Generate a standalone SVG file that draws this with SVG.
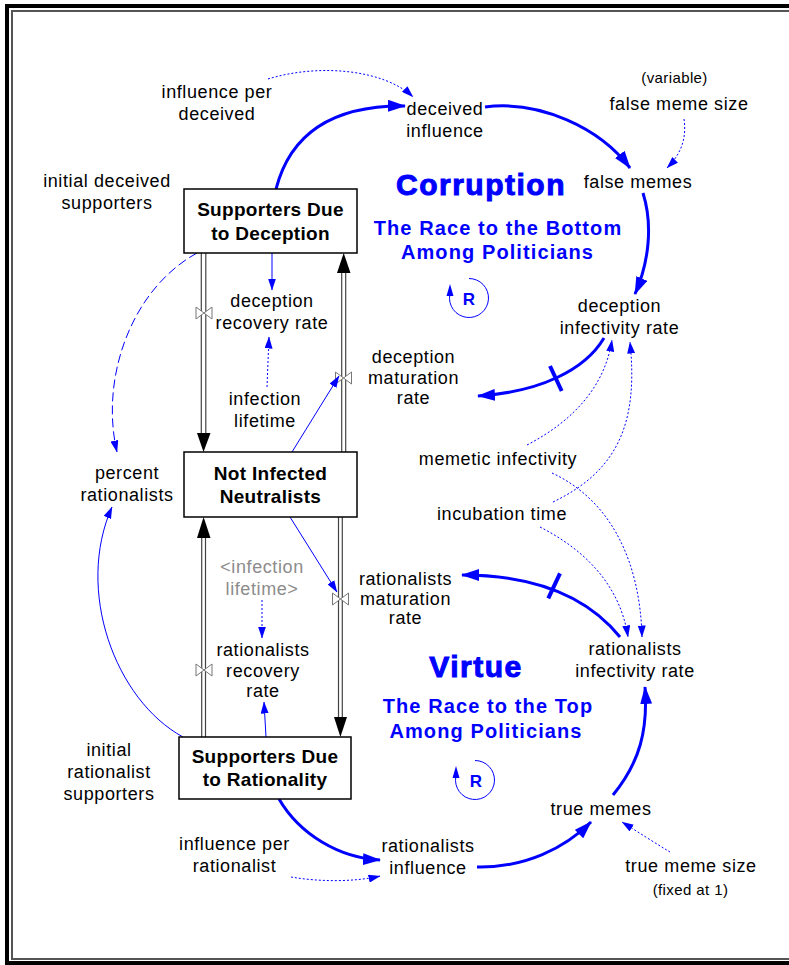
<svg xmlns="http://www.w3.org/2000/svg" width="789" height="965" viewBox="0 0 789 965">
<style>
text{font-family:'Liberation Sans',Arial,sans-serif}
.lbl{font-size:18px;letter-spacing:0.6px;text-anchor:middle;fill:#000}
.sm{font-size:15px;letter-spacing:0.4px;text-anchor:middle;fill:#000}
.gray{fill:#8c8c8c}
.stk{font-size:19px;font-weight:bold;letter-spacing:0.3px;text-anchor:middle;fill:#000}
.box{fill:#fff;stroke:#000;stroke-width:1.5}
.title{font-size:30px;font-weight:bold;letter-spacing:1.5px;text-anchor:middle;fill:#00f;stroke:#00f;stroke-width:1}
.sub{font-size:20px;font-weight:bold;letter-spacing:1.1px;text-anchor:middle;fill:#00f}
.rl{font-size:17px;font-weight:bold;text-anchor:middle;fill:#00f}
.thick{fill:none;stroke:#00f;stroke-width:3;marker-end:url(#ahB)}
.thin{fill:none;stroke:#00f;stroke-width:1;marker-end:url(#ahS)}
.dot{stroke-dasharray:2 2}
.dash{stroke-dasharray:9 4}
.pipe{stroke:#444;stroke-width:1.2;fill:none}
.valve{fill:#fff;stroke:#777;stroke-width:1}
.tick{stroke:#00f;stroke-width:4}
.loop{fill:none;stroke:#00f;stroke-width:1}
</style>
<defs>
<marker id="ahB" viewBox="0 0 18 12" refX="17" refY="6" markerWidth="18" markerHeight="12" markerUnits="userSpaceOnUse" orient="auto"><path d="M0,0 L18,6 L0,12 z" fill="#00f"/></marker>
<marker id="ahS" viewBox="0 0 12 8" refX="11.5" refY="4" markerWidth="12" markerHeight="8" markerUnits="userSpaceOnUse" orient="auto"><path d="M0,0 L12,4 L0,8 z" fill="#00f"/></marker>
<path id="valveShape" d="M-8,-6 L8,6 L8,-6 L-8,6 Z"/>
</defs>
<rect width="789" height="965" fill="#fff"/>
<g id="frame" fill="none">
<path d="M789,6 H7 V963 H789" stroke="#000" stroke-width="4"/>
<path d="M789,11 H12 V959 H789" stroke="#555" stroke-width="2"/>
</g>

<g id="connectors">
<!-- pipes -->
<g id="pipes">
<line class="pipe" x1="201.3" y1="253" x2="201.3" y2="434"/><line class="pipe" x1="205.8" y1="253" x2="205.8" y2="434"/>
<polygon points="197,433 210.5,433 203.5,452" fill="#000"/>
<line class="pipe" x1="341.7" y1="452" x2="341.7" y2="272"/><line class="pipe" x1="345.7" y1="452" x2="345.7" y2="272"/>
<polygon points="337,273 350.5,273 343.7,253" fill="#000"/>
<line class="pipe" x1="201.7" y1="737" x2="201.7" y2="537"/><line class="pipe" x1="205.5" y1="737" x2="205.5" y2="537"/>
<polygon points="197,538 210.5,538 203.6,517" fill="#000"/>
<line class="pipe" x1="338.5" y1="517" x2="338.5" y2="718"/><line class="pipe" x1="342.3" y1="517" x2="342.3" y2="718"/>
<polygon points="334,717 347,717 340.4,737" fill="#000"/>
<use href="#valveShape" class="valve" x="204" y="313"/>
<use href="#valveShape" class="valve" x="343.5" y="378"/>
<use href="#valveShape" class="valve" x="204" y="670"/>
<use href="#valveShape" class="valve" x="340.5" y="599"/>
</g>
<!-- thick causal links -->
<path class="thick" d="M276,189 C290,135 330,105 405,106"/>
<path class="thick" d="M485,107 C540,100 600,128 630,168"/>
<path class="thick" d="M643,193 C653,225 649,262 635,294"/>
<path class="thick" d="M604,338 C585,370 540,392 478,396"/>
<line class="tick" x1="550" y1="366" x2="561.7" y2="391"/>
<path class="thick" d="M620,637 C590,600 540,575 462,575"/>
<line class="tick" x1="548.3" y1="598.3" x2="560" y2="573.3"/>
<path class="thick" d="M613,795 C640,762 648,730 645,687"/>
<path class="thick" d="M477,867 C525,868 565,848 591,822"/>
<path class="thick" d="M279,799 C300,835 340,858 380,860"/>
<!-- thin solid links -->
<path class="thin" d="M272,253 L272,290"/>
<path class="thin" d="M292,452 L339,376"/>
<path class="thin" d="M290,517 L337,592"/>
<path class="thin" d="M266,737 L264,702"/>
<path class="thin" d="M183,737 C115,700 75,590 112,507"/>
<path class="thin dash" d="M197,253 C130,290 100,380 117,452"/>
<!-- dotted links -->
<path class="thin dot" d="M268,79 C320,63 385,70 413,97"/>
<path class="thin dot" d="M684,119 C687,140 680,155 667,168"/>
<path class="thin dot" d="M267,387 L269,337"/>
<path class="thin dot" d="M262,600 L262,638"/>
<path class="thin dot" d="M527,445 C575,420 605,385 612,340"/>
<path class="thin dot" d="M553,502 C620,470 638,420 630,342"/>
<path class="thin dot" d="M552,473 C610,500 640,560 642,637"/>
<path class="thin dot" d="M540,527 C585,550 620,585 628,637"/>
<path class="thin dot" d="M291,877 C320,882 355,882 380,876"/>
<path class="thin dot" d="M670,852 C655,843 638,832 622,822"/>
</g>

<g id="stock-deception"><rect class="box" x="184" y="189" width="173" height="64"/>
<text class="stk" x="270.5" y="216">Supporters Due</text><text class="stk" x="270.5" y="240">to Deception</text></g>
<g id="stock-neutral"><rect class="box" x="184" y="452" width="173" height="65"/>
<text class="stk" x="270.5" y="480">Not Infected</text><text class="stk" x="270.5" y="503">Neutralists</text></g>
<g id="stock-rationality"><rect class="box" x="179" y="737" width="172" height="62"/>
<text class="stk" x="265" y="763">Supporters Due</text><text class="stk" x="265" y="786">to Rationality</text></g>

<g id="influence-per-deceived"><text class="lbl" x="217" y="98">influence per</text><text class="lbl" x="217" y="120">deceived</text></g>
<g id="initial-deceived-supporters"><text class="lbl" x="107" y="187">initial deceived</text><text class="lbl" x="107" y="209">supporters</text></g>
<g id="deceived-influence"><text class="lbl" x="445" y="115">deceived</text><text class="lbl" x="445" y="137">influence</text></g>
<g id="false-meme-size"><text class="sm" x="674.5" y="83">(variable)</text><text class="lbl" x="679" y="110">false meme size</text></g>
<g id="false-memes"><text class="lbl" x="638" y="188">false memes</text></g>
<g id="corruption-title"><text class="title" x="481" y="195">Corruption</text>
<text class="sub" x="498" y="235">The Race to the Bottom</text><text class="sub" x="497.5" y="259">Among Politicians</text></g>
<g id="loop-corruption"><path class="loop" d="M469,278.5 A19.5,19.5 0 1 1 449.8,294.6"/>
<polygon points="450,284 446.5,296 453.5,296" fill="#00f"/><text class="rl" x="469" y="305">R</text></g>
<g id="deception-recovery-rate"><text class="lbl" x="272" y="307">deception</text><text class="lbl" x="272" y="329">recovery rate</text></g>
<g id="infection-lifetime"><text class="lbl" x="265" y="405">infection</text><text class="lbl" x="265" y="427">lifetime</text></g>
<g id="deception-maturation-rate"><text class="lbl" x="413.5" y="363">deception</text><text class="lbl" x="413.5" y="384">maturation</text><text class="lbl" x="413.5" y="404">rate</text></g>
<g id="deception-infectivity-rate"><text class="lbl" x="619.5" y="312">deception</text><text class="lbl" x="619.5" y="334">infectivity rate</text></g>
<g id="memetic-infectivity"><text class="lbl" x="498" y="465">memetic infectivity</text></g>
<g id="incubation-time"><text class="lbl" x="502" y="520">incubation time</text></g>
<g id="percent-rationalists"><text class="lbl" x="127" y="479">percent</text><text class="lbl" x="127" y="501">rationalists</text></g>
<g id="infection-lifetime-shadow"><text class="lbl gray" x="262" y="573">&lt;infection</text><text class="lbl gray" x="262" y="595">lifetime&gt;</text></g>
<g id="rationalists-recovery-rate"><text class="lbl" x="263" y="656">rationalists</text><text class="lbl" x="263" y="677">recovery</text><text class="lbl" x="263" y="697">rate</text></g>
<g id="rationalists-maturation-rate"><text class="lbl" x="405.5" y="585">rationalists</text><text class="lbl" x="405.5" y="605">maturation</text><text class="lbl" x="405.5" y="624">rate</text></g>
<g id="rationalists-infectivity-rate"><text class="lbl" x="635" y="655">rationalists</text><text class="lbl" x="635" y="677">infectivity rate</text></g>
<g id="virtue-title"><text class="title" x="476" y="677">Virtue</text>
<text class="sub" x="488" y="713">The Race to the Top</text><text class="sub" x="486" y="738">Among Politicians</text></g>
<g id="loop-virtue"><path class="loop" d="M475,760.5 A19.5,19.5 0 1 1 455.8,776.6"/>
<polygon points="456,766 452.5,778 459.5,778" fill="#00f"/><text class="rl" x="476" y="787">R</text></g>
<g id="initial-rationalist-supporters"><text class="lbl" x="109" y="756">initial</text><text class="lbl" x="109" y="778">rationalist</text><text class="lbl" x="109" y="800">supporters</text></g>
<g id="influence-per-rationalist"><text class="lbl" x="234.5" y="850">influence per</text><text class="lbl" x="234.5" y="872">rationalist</text></g>
<g id="rationalists-influence"><text class="lbl" x="428" y="852">rationalists</text><text class="lbl" x="428" y="874">influence</text></g>
<g id="true-memes"><text class="lbl" x="601" y="815">true memes</text></g>
<g id="true-meme-size"><text class="lbl" x="691" y="872">true meme size</text><text class="sm" x="690.5" y="895">(fixed at 1)</text></g>
</svg>
